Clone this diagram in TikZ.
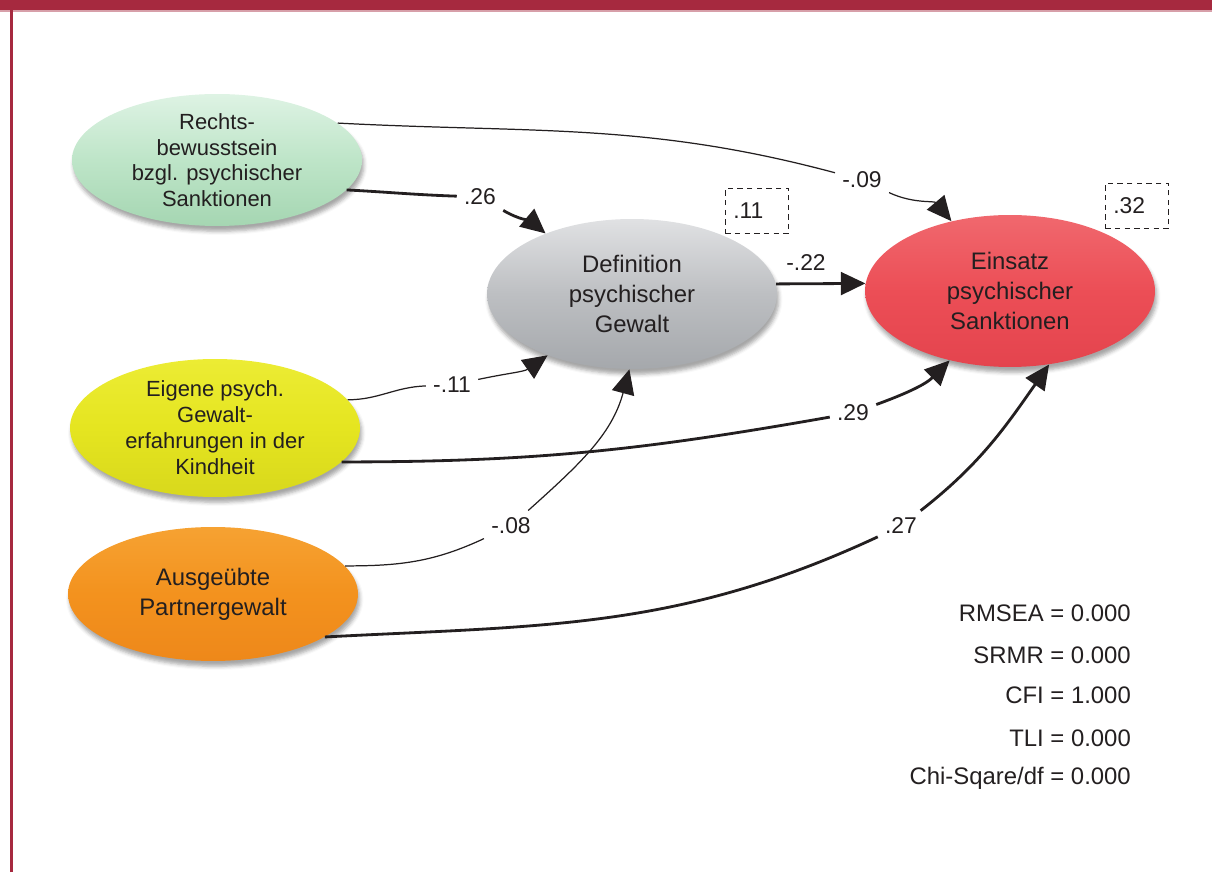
\documentclass[tikz,border=0pt]{standalone}
\usepackage{fontspec}
\setmainfont{Liberation Sans}
\usetikzlibrary{shapes.geometric, arrows.meta, shadows.blur}
\definecolor{framered}{RGB}{166,41,63}
\definecolor{ink}{RGB}{35,31,32}
\definecolor{mint}{RGB}{190,229,200}
\definecolor{mintlt}{RGB}{222,243,228}
\definecolor{mintdk}{RGB}{165,214,178}
\definecolor{ash}{RGB}{189,191,194}
\definecolor{ashlt}{RGB}{224,225,227}
\definecolor{ashdk}{RGB}{165,168,172}
\definecolor{lemon}{RGB}{229,229,32}
\definecolor{lemonlt}{RGB}{236,236,52}
\definecolor{lemondk}{RGB}{216,216,28}
\definecolor{amber}{RGB}{243,146,30}
\definecolor{amberlt}{RGB}{246,162,50}
\definecolor{amberdk}{RGB}{238,136,26}
\definecolor{coral}{RGB}{236,78,86}
\definecolor{corallt}{RGB}{240,104,110}
\definecolor{coraldk}{RGB}{228,68,78}
\begin{document}
\begin{tikzpicture}[x=0.02cm, y=0.02cm, >={Triangle[length=14pt, width=13pt]},
  construct/.style={ellipse, minimum width=5.8cm, minimum height=2.7cm,
    inner xsep=0pt, inner ysep=-8pt, align=center, text=ink,
    font=\fontsize{13.6}{17}\selectfont,
    blur shadow={shadow xshift=1pt, shadow yshift=-3pt, shadow opacity=35}},
  coef/.style={inner sep=4pt, text=ink, font=\fontsize{13}{16}\selectfont},
  resid/.style={draw=ink, line width=0.6pt, dash pattern=on 3pt off 2.5pt,
    minimum height=0.9cm, text width=0.95cm, inner xsep=0.16cm, align=left,
    text=ink, font=\fontsize{13}{16}\selectfont},
  fitstat/.style={anchor=east, text=ink, font=\fontsize{13.6}{16}\selectfont},
  weak/.style={draw=ink, line width=0.7pt},
  strong/.style={draw=ink, line width=1.6pt}]
\useasboundingbox (0,0) rectangle (1212,872);
% frame
\fill[framered] (0,862) rectangle (1212,872);
\fill[framered!45] (0,860) rectangle (1212,862);
\draw[framered, line width=0.054cm] (11.3,0) -- (11.3,862);

% constructs
\node[construct, top color=mintlt, bottom color=mintdk, middle color=mint,
  minimum height=2.64cm, font=\fontsize{12.5}{14.6}\selectfont] (rb) at (217,712)
  {Rechts-\\bewusstsein\\bzgl. psychischer\\Sanktionen};
\node[construct, top color=lemonlt, bottom color=lemondk, middle color=lemon,
  minimum height=2.76cm, font=\fontsize{12.5}{14.8}\selectfont] (eg) at (215,444)
  {Eigene psych.\\Gewalt-\\erfahrungen in der\\Kindheit};
\node[construct, top color=amberlt, bottom color=amberdk, middle color=amber,
  minimum height=2.68cm] (ap) at (213,278) {Ausgeübte\\Partnergewalt};
\node[construct, top color=ashlt, bottom color=ashdk, middle color=ash,
  minimum height=3cm] (def) at (632,578) {Definition\\psychischer\\Gewalt};
\node[construct, top color=corallt, bottom color=coraldk, middle color=coral,
  minimum height=3.04cm] (ein) at (1010,581) {Einsatz\\psychischer\\Sanktionen};

% coefficients
\node[coef] (l09) at (862,692) {-.09};
\node[coef] (l26) at (480,675) {.26};
\node[coef] (l22) at (806,609) {-.22};
\node[coef] (l11) at (452,487) {-.11};
\node[coef] (l29) at (853,459) {.29};
\node[coef] (l08) at (511,346) {-.08};
\node[coef] (l27) at (901,346) {.27};

% explained variance
\node[resid] (r11) at (757,661) {.11};
\node[resid] (r32) at (1137,666) {.32};

% paths
\draw[weak] (rb.17) to[out=-3, in=165] (l09);
\draw[weak, ->] (l09) to[out=-25, in=130] (ein.130);
\draw[strong] (rb.-13) to[out=-3, in=178] (l26);
\draw[strong, ->] (l26) to[out=-30, in=140] (def.145);
\draw[strong, ->] (def.4) -- (ein.177);
\draw[weak] (eg.12) to[out=0, in=182] (l11);
\draw[weak, ->] (l11) to[out=12, in=215] (def.216);
\draw[strong] (eg.-15) to[out=0, in=190] (l29);
\draw[strong, ->] (l29) to[out=20, in=225] (ein.229);
\draw[weak] (ap.12) to[out=0, in=205] (l08);
\draw[weak, ->] (l08) to[out=42, in=255] (def.268);
\draw[strong] (ap.-21) to[out=3, in=205] (l27);
\draw[strong, ->] (l27) to[out=38, in=235] (ein.298);

% fit indices
\node[fitstat] (rmsea) at (1137,259) {RMSEA = 0.000};
\node[fitstat] (srmr) at (1137,217) {SRMR = 0.000};
\node[fitstat] (cfi) at (1137,177) {CFI = 1.000};
\node[fitstat] (tli) at (1137,134) {TLI = 0.000};
\node[fitstat] (chi) at (1137,94) {Chi-Sqare/df = 0.000};
\end{tikzpicture}
\end{document}
